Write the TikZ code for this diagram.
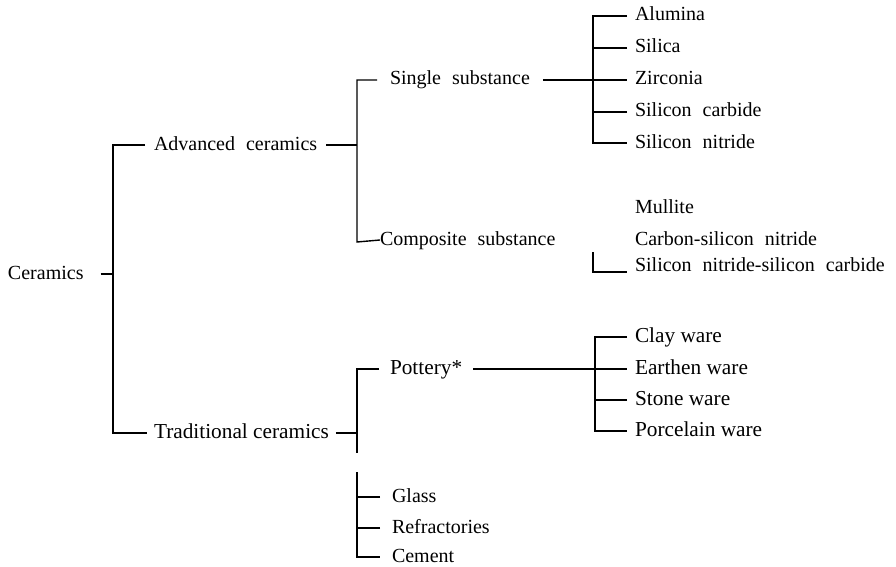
\documentclass[tikz,border=0pt]{standalone}
\usepackage{fontspec}
\setmainfont{Liberation Serif}
\newcommand\widesp{\spaceskip=11pt plus 2pt\relax}
\begin{document}
\begin{tikzpicture}[x=1pt, y=-1pt, line width=1.4pt,
    lbl/.style={anchor=west, inner sep=0pt, outer sep=8pt, text height=14pt, text depth=4pt,
      font=\fontsize{20}{24}\selectfont},
    wide/.style={lbl, execute at begin node=\widesp},
    trd/.style={lbl, font=\fontsize{21.3}{25}\selectfont}]
            \useasboundingbox (0,0) rectangle (896,567);
            \node[lbl, outer sep=17pt] (cer) at (-9,274) {Ceramics};
            \node[wide, outer sep=9pt] (adv) at (145,145) {Advanced ceramics};
            \node[trd, outer sep=7pt] (trad) at (147,433) {Traditional ceramics};
            \node[wide, outer sep=13pt] (sing) at (377,80) {Single substance};
            \node[wide, outer sep=0pt] (comp) at (380,240) {Composite substance};
            \node[trd, outer sep=11pt] (pot) at (379,369) {Pottery*};
            \node[lbl] (alu) at (627,16) {Alumina};
            \node[lbl] (sil) at (627,48) {Silica};
            \node[lbl] (zir) at (627,80) {Zirconia};
            \node[wide] (sic) at (627,112) {Silicon carbide};
            \node[wide] (sin) at (627,143) {Silicon nitride};
            \node[lbl] (mul) at (627,208) {Mullite};
            \node[wide] (csn) at (627,240) {Carbon-silicon nitride};
            \node[wide] (snsc) at (627,266) {Silicon nitride-silicon carbide};
            \node[trd] (clay) at (627,337) {Clay ware};
            \node[trd] (earth) at (627,369) {Earthen ware};
            \node[trd] (stone) at (627,400) {Stone ware};
            \node[trd] (porc) at (627,431) {Porcelain ware};
            \node[lbl, outer sep=12pt] (glass) at (380,497) {Glass};
            \node[lbl, outer sep=12pt] (refr) at (380,528) {Refractories};
            \node[lbl, outer sep=12pt] (cem) at (380,557) {Cement};
            \coordinate (b0) at (113,145);
            \coordinate (b1) at (357,80);
            \coordinate (b1e) at (357,242);
            \coordinate (b2) at (593,16);
            \coordinate (b3) at (593,252);
            \coordinate (b4) at (595,337);
            \coordinate (b5) at (357,369);
            \coordinate (b5e) at (357,453);
            \coordinate (b6) at (357,472);
            \draw (cer.east) -- (cer.east -| b0);
            \draw (adv.west) -| (b0) |- (trad.west);
            \draw (adv.east) -- (adv.east -| b1);
            \draw (sing.west) -| (b1) -- (b1e) -- (comp.west);
            \draw (sing.east) -- (zir.west);
            \draw (alu.west) -| (b2) |- (sin.west);
            \draw (sil.west) -- (sil.west -| b2);
            \draw (sic.west) -- (sic.west -| b2);
            \draw (b3) |- ([yshift=-6pt]snsc.west);
            \draw (trad.east) -- (trad.east -| b5);
            \draw (pot.west) -| (b5) -- (b5e);
            \draw (pot.east) -- (earth.west);
            \draw (clay.west) -| (b4) |- (porc.west);
            \draw (stone.west) -- (stone.west -| b4);
            \draw (b6) |- (cem.west);
            \draw (glass.west) -- (glass.west -| b6);
            \draw (refr.west) -- (refr.west -| b6);
        \end{tikzpicture}
\end{document}
